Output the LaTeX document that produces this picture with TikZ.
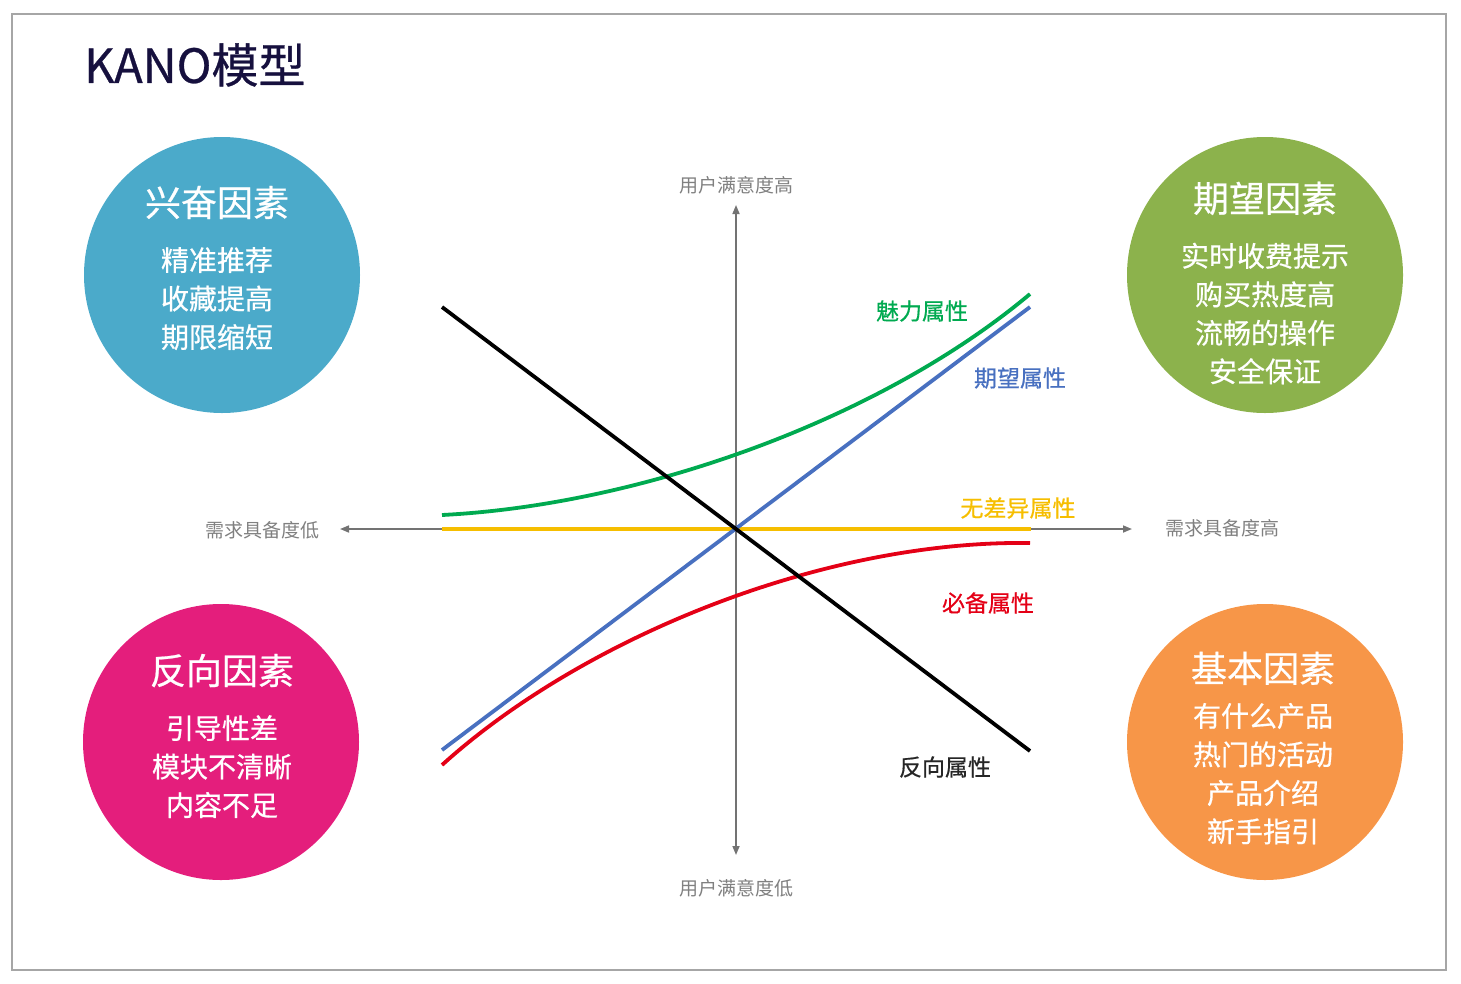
\documentclass[tikz,border=0pt]{standalone}
\usepackage{fontspec}
\setmainfont{Noto Sans CJK SC}
\newfontfamily\medfont{Noto Sans CJK SC}[FakeBold=0.6]
\usetikzlibrary{arrows.meta,positioning}

\definecolor{cSky}{RGB}{75,170,202}
\definecolor{cOlive}{RGB}{140,178,76}
\definecolor{cRose}{RGB}{228,30,124}
\definecolor{cOrange}{RGB}{247,150,72}
\definecolor{cGreen}{RGB}{0,170,80}
\definecolor{cBlue}{RGB}{72,112,192}
\definecolor{cYellow}{RGB}{246,190,0}
\definecolor{cRed}{RGB}{228,0,22}
\definecolor{cNavy}{RGB}{22,16,62}

\newcommand{\ftitle}{\fontsize{36}{40}\selectfont}

\begin{document}
\begin{tikzpicture}[x=1pt, y=-1pt, every node/.style={align=center, inner sep=0pt},
  axis/.style={{Triangle[length=9pt,width=7pt]}-{Triangle[length=9pt,width=7pt]}, line width=1.6pt, draw=black!55},
  curve/.style={line width=3.8pt}]

% styles
\tikzset{
  factor/.style={circle, minimum size=276pt},
  factortext/.style={text=white, font=\medfont\fontsize{28}{38.5}\selectfont},
  axislabel/.style={text=black!50, font=\fontsize{19}{22}\selectfont},
  attr/.style={font=\medfont\fontsize{23}{26}\selectfont}
}

\useasboundingbox (0,0) rectangle (1461,983);
\draw[black!35, line width=1.5pt] (12,14) rectangle (1446,970);

% title
\node[anchor=west, text=cNavy, font=\medfont\fontsize{47}{50}\selectfont] (title) at (84,65) {KANO模型};

% four factor circles
\node[factor, fill=cSky] (exciting) at (222,275) {};
\node[factor, fill=cOlive] (expected) at (1265,275) {};
\node[factor, fill=cRose] (reverse) at (221,742) {};
\node[factor, fill=cOrange] (basic) at (1265,742) {};

\node[factortext] (excitingTxt) at (217,268) {{\ftitle 兴奋因素}\\[16pt]精准推荐\\收藏提高\\期限缩短};
\node[factortext] (expectedTxt) at (1265,283) {{\ftitle 期望因素}\\[16pt]实时收费提示\\购买热度高\\流畅的操作\\安全保证};
\node[factortext] (reverseTxt) at (222,736) {{\ftitle 反向因素}\\[16pt]引导性差\\模块不清晰\\内容不足};
\node[factortext] (basicTxt) at (1263,748) {{\ftitle 基本因素}\\[6pt]有什么产品\\热门的活动\\产品介绍\\新手指引};

% axes
\coordinate (O) at (736,529);
\coordinate (xL) at (340,529);
\coordinate (xR) at (1132,529);
\coordinate (yT) at (736,205);
\coordinate (yB) at (736,855);
\draw[axis] (xL) -- (xR);
\draw[axis] (yB) -- (yT);

\node[axislabel] (hiSat) at (736,185) {用户满意度高};
\node[axislabel] (loSat) at (736,888) {用户满意度低};
\node[axislabel] (loReq) at (262,530) {需求具备度低};
\node[axislabel] (hiReq) at (1222,528) {需求具备度高};

% attribute curves
\coordinate (gA) at (442,515);
\coordinate (gB) at (1030,294);
\coordinate (bA) at (442,750);
\coordinate (bB) at (1030,307);
\coordinate (kA) at (442,307);
\coordinate (kB) at (1030,751);
\coordinate (yA) at (442,529);
\coordinate (yB2) at (1031,529);
\coordinate (rA) at (442,765);
\coordinate (rB) at (1030,543);

\draw[curve, cYellow] (yA) -- (yB2);
\draw[curve, cGreen] (gA) .. controls (640,505) and (880,420) .. (gB);
\draw[curve, cRed] (rA) .. controls (580,640) and (820,540) .. (rB);
\draw[curve, cBlue] (bA) -- (bB);
\draw[curve, black] (kA) -- (kB);

\node[attr, text=cGreen] (charm) at (922,311) {魅力属性};
\node[attr, text=cBlue] (expect) at (1020,378) {期望属性};
\node[attr, text=cYellow] (indiff) at (1018,508) {无差异属性};
\node[attr, text=cRed] (must) at (988,603) {必备属性};
\node[attr, text=black!85] (revattr) at (945,767) {反向属性};

\end{tikzpicture}
\end{document}
